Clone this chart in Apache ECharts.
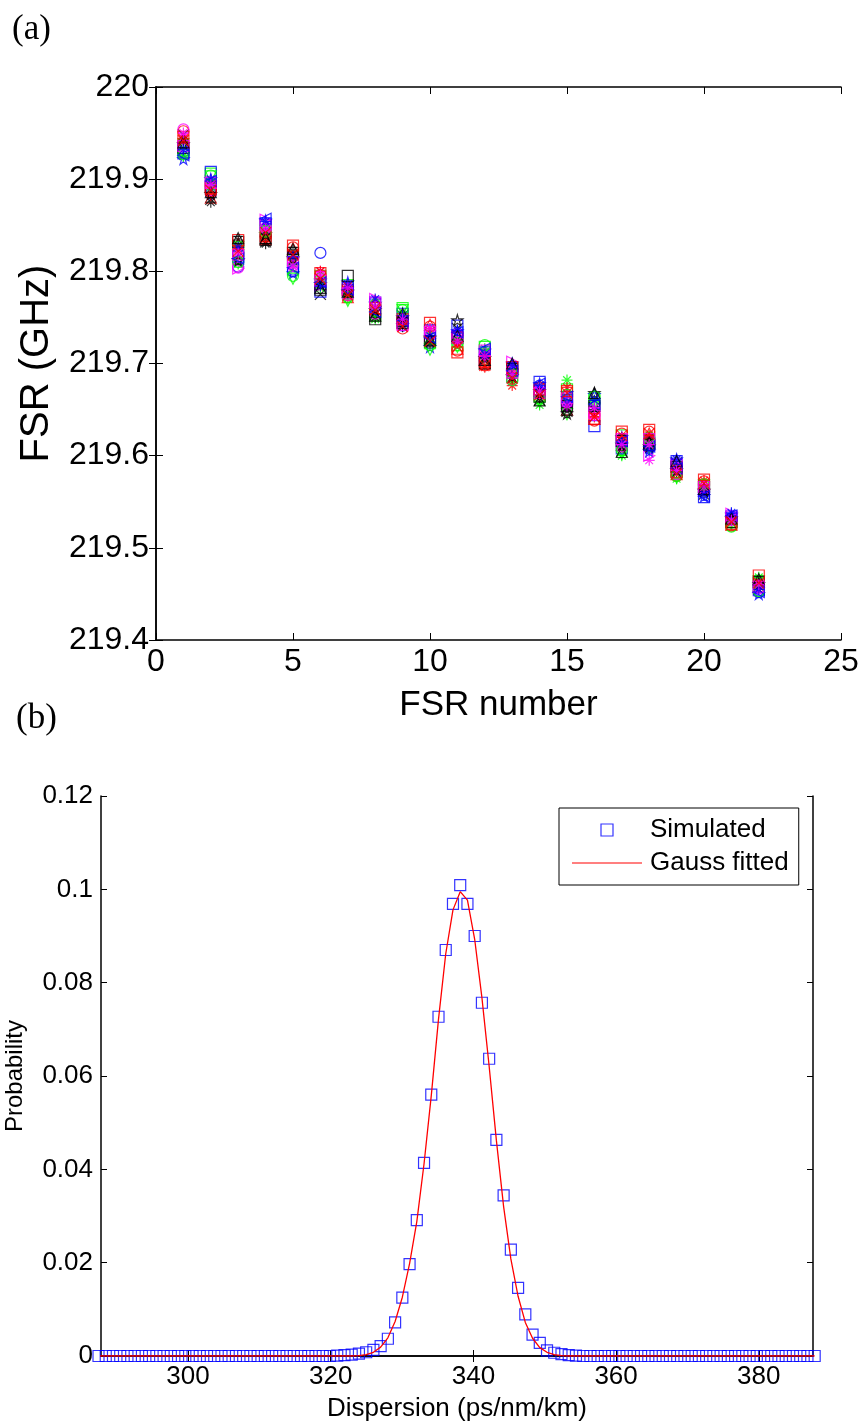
<!DOCTYPE html>
<html>
<head>
<meta charset="utf-8">
<script src="https://cdn.jsdelivr.net/npm/echarts@6/dist/echarts.min.js"></script>
<style>
  html, body { margin: 0; padding: 0; background: #fff; }
  #main { width: 866px; height: 1426px; }
</style>
</head>
<body>
<div id="main"></div>
<script>
// (a) FSR per FSR number, one array per simulation run
var fsrNumber = [1, 2, 3, 4, 5, 6, 7, 8, 9, 10, 11, 12, 13, 14, 15, 16, 17, 18, 19, 20, 21, 22];
var run01 = [219.930, 219.884, 219.805, 219.845, 219.800, 219.820, 219.776, 219.762, 219.741, 219.735, 219.733, 219.703, 219.694, 219.676, 219.655, 219.657, 219.618, 219.608, 219.590, 219.560, 219.532, 219.452];
var run02 = [219.932, 219.906, 219.822, 219.850, 219.812, 219.795, 219.785, 219.752, 219.760, 219.722, 219.720, 219.718, 219.686, 219.664, 219.672, 219.662, 219.622, 219.615, 219.582, 219.567, 219.528, 219.462];
var run03 = [219.945, 219.880, 219.830, 219.835, 219.825, 219.786, 219.772, 219.768, 219.750, 219.742, 219.716, 219.700, 219.698, 219.668, 219.650, 219.640, 219.612, 219.624, 219.580, 219.570, 219.525, 219.458];
var run04 = [219.940, 219.895, 219.815, 219.848, 219.805, 219.800, 219.780, 219.758, 219.745, 219.730, 219.728, 219.712, 219.690, 219.672, 219.660, 219.645, 219.610, 219.595, 219.588, 219.562, 219.534, 219.466];
var run05 = [219.948, 219.878, 219.828, 219.832, 219.818, 219.775, 219.778, 219.755, 219.752, 219.725, 219.738, 219.706, 219.685, 219.660, 219.648, 219.652, 219.605, 219.618, 219.592, 219.558, 219.530, 219.455];
var run06 = [219.922, 219.900, 219.812, 219.855, 219.798, 219.790, 219.788, 219.765, 219.742, 219.718, 219.735, 219.714, 219.700, 219.678, 219.668, 219.666, 219.620, 219.605, 219.596, 219.556, 219.536, 219.450];
var run07 = [219.925, 219.892, 219.808, 219.840, 219.808, 219.782, 219.770, 219.748, 219.756, 219.733, 219.724, 219.716, 219.680, 219.655, 219.682, 219.660, 219.600, 219.610, 219.575, 219.566, 219.527, 219.468];
var run08 = [219.952, 219.886, 219.820, 219.838, 219.826, 219.796, 219.774, 219.762, 219.738, 219.740, 219.714, 219.698, 219.692, 219.674, 219.664, 219.638, 219.624, 219.626, 219.578, 219.572, 219.524, 219.460];
var run09 = [219.935, 219.898, 219.803, 219.856, 219.815, 219.784, 219.783, 219.770, 219.744, 219.727, 219.730, 219.704, 219.702, 219.670, 219.656, 219.648, 219.616, 219.600, 219.590, 219.563, 219.537, 219.457];
var run10 = [219.942, 219.875, 219.834, 219.830, 219.822, 219.792, 219.776, 219.750, 219.740, 219.722, 219.726, 219.708, 219.684, 219.662, 219.652, 219.650, 219.614, 219.620, 219.583, 219.560, 219.531, 219.462];
var run11 = [219.928, 219.908, 219.816, 219.852, 219.802, 219.778, 219.782, 219.766, 219.754, 219.736, 219.741, 219.712, 219.695, 219.680, 219.660, 219.632, 219.608, 219.614, 219.594, 219.555, 219.534, 219.454];
var run12 = [219.938, 219.903, 219.826, 219.844, 219.792, 219.788, 219.768, 219.756, 219.758, 219.715, 219.718, 219.702, 219.688, 219.658, 219.645, 219.656, 219.602, 219.608, 219.576, 219.568, 219.526, 219.464];
var run13 = [219.944, 219.882, 219.824, 219.836, 219.812, 219.800, 219.784, 219.760, 219.746, 219.738, 219.722, 219.696, 219.676, 219.666, 219.674, 219.642, 219.620, 219.622, 219.586, 219.573, 219.529, 219.459];
var run14 = [219.954, 219.888, 219.804, 219.846, 219.806, 219.794, 219.774, 219.754, 219.748, 219.732, 219.732, 219.710, 219.682, 219.668, 219.658, 219.644, 219.610, 219.616, 219.580, 219.564, 219.530, 219.456];
var run15 = [219.934, 219.892, 219.832, 219.834, 219.820, 219.780, 219.795, 219.748, 219.744, 219.724, 219.728, 219.700, 219.694, 219.664, 219.654, 219.654, 219.616, 219.612, 219.588, 219.566, 219.528, 219.463];
var run16 = [219.938, 219.884, 219.812, 219.840, 219.814, 219.786, 219.778, 219.758, 219.750, 219.728, 219.747, 219.706, 219.686, 219.670, 219.646, 219.668, 219.612, 219.610, 219.584, 219.562, 219.532, 219.461];
var run17 = [219.927, 219.904, 219.810, 219.843, 219.795, 219.792, 219.772, 219.764, 219.758, 219.720, 219.722, 219.720, 219.682, 219.662, 219.666, 219.664, 219.606, 219.620, 219.578, 219.569, 219.523, 219.453];
var run18 = [219.946, 219.890, 219.834, 219.838, 219.828, 219.798, 219.780, 219.760, 219.748, 219.744, 219.712, 219.702, 219.696, 219.672, 219.670, 219.640, 219.626, 219.628, 219.582, 219.574, 219.526, 219.470];
var run19 = [219.936, 219.896, 219.818, 219.850, 219.810, 219.790, 219.776, 219.766, 219.742, 219.734, 219.728, 219.714, 219.690, 219.668, 219.662, 219.646, 219.618, 219.618, 219.590, 219.566, 219.534, 219.458];
var run20 = [219.932, 219.900, 219.826, 219.854, 219.816, 219.784, 219.786, 219.770, 219.752, 219.730, 219.736, 219.710, 219.698, 219.676, 219.658, 219.660, 219.614, 219.606, 219.596, 219.558, 219.538, 219.455];
var run21 = [219.940, 219.886, 219.836, 219.836, 219.824, 219.782, 219.778, 219.752, 219.754, 219.726, 219.730, 219.704, 219.700, 219.660, 219.650, 219.668, 219.604, 219.614, 219.594, 219.564, 219.532, 219.466];
var run22 = [219.926, 219.898, 219.814, 219.857, 219.804, 219.788, 219.780, 219.756, 219.746, 219.728, 219.734, 219.716, 219.692, 219.678, 219.664, 219.656, 219.616, 219.610, 219.586, 219.556, 219.535, 219.452];
var run23 = [219.950, 219.894, 219.820, 219.846, 219.806, 219.796, 219.782, 219.762, 219.748, 219.738, 219.724, 219.708, 219.688, 219.670, 219.654, 219.652, 219.612, 219.612, 219.584, 219.566, 219.530, 219.460];
var run24 = [219.942, 219.888, 219.822, 219.842, 219.818, 219.792, 219.774, 219.758, 219.740, 219.724, 219.718, 219.698, 219.684, 219.666, 219.668, 219.642, 219.622, 219.624, 219.580, 219.570, 219.528, 219.462];

// (b) dispersion histogram
var binStart = 287.45;   // first bin centre, ps/nm/km
var binStep = 1.014;
var probSimulated = [
  0, 0, 0, 0, 0, 0, 0, 0, 0, 0, 0, 0, 0, 0, 0, 0, 0, 0, 0, 0,
  0, 0, 0, 0, 0, 0, 0, 0, 0, 0, 0, 0, 0,
  0.0001, 0.0002, 0.0003, 0.0005, 0.0008, 0.0013, 0.0021, 0.0037, 0.0072, 0.0125,
  0.0197, 0.0291, 0.0414, 0.0560, 0.0727, 0.0870, 0.0969, 0.1009, 0.0969, 0.0900,
  0.0757, 0.0637, 0.0463, 0.0344, 0.0228, 0.0146, 0.0089, 0.0046, 0.0028, 0.0012,
  0.0007, 0.0004, 0.0002, 0.0001,
  0, 0, 0, 0, 0, 0, 0, 0, 0, 0, 0, 0, 0, 0, 0, 0, 0, 0, 0, 0,
  0, 0, 0, 0, 0, 0, 0, 0, 0, 0, 0, 0, 0
];
var probFitted = [
  0, 0, 0, 0, 0, 0, 0, 0, 0, 0, 0, 0, 0, 0, 0, 0, 0, 0, 0, 0,
  0, 0, 0, 0, 0, 0, 0, 0, 0, 0, 0, 0, 0, 0, 0, 0,
  0.0001, 0.0003, 0.0008, 0.0019, 0.0039, 0.0074, 0.0126, 0.0198, 0.0288, 0.0412,
  0.0558, 0.0722, 0.0862, 0.0956, 0.0995, 0.0977, 0.0893, 0.0768, 0.0621, 0.0462,
  0.0320, 0.0208, 0.0128, 0.0072, 0.0038, 0.0018, 0.0008, 0.0003, 0.0001,
  0, 0, 0, 0, 0, 0, 0, 0, 0, 0, 0, 0, 0, 0, 0, 0, 0, 0, 0, 0,
  0, 0, 0, 0, 0, 0, 0, 0, 0, 0, 0, 0, 0, 0, 0
];
var xTicksB = [300, 320, 340, 360, 380];

var FONT = "'Liberation Sans', Arial, sans-serif";
var SERIF = "'Liberation Serif', 'Times New Roman', serif";

// matlab-ish markers
var asterisk = 'path://M5 0L5 10M0 5L10 5M1.5 1.5L8.5 8.5M8.5 1.5L1.5 8.5';
var cross = 'path://M0 0L10 10M10 0L0 10';
var penta = 'path://M50 0L61 35L98 35L68 57L79 91L50 70L21 91L32 57L2 35L39 35Z';

var runs = [run01, run02, run03, run04, run05, run06, run07, run08,
            run09, run10, run11, run12, run13, run14, run15, run16,
            run17, run18, run19, run20, run21, run22, run23, run24];
var runStyle = [
  { sym: 'circle', col: '#0000ff' },
  { sym: 'rect', col: '#00ff00' },
  { sym: 'triangle', col: '#ff0000' },
  { sym: asterisk, col: '#ff00ff' },
  { sym: cross, col: '#000000' },
  { sym: penta, col: '#0000ff' },
  { sym: asterisk, col: '#00ff00' },
  { sym: 'circle', col: '#ff0000' },
  { sym: 'triangle', col: '#ff00ff', rot: -90 },
  { sym: asterisk, col: '#000000' },
  { sym: 'rect', col: '#0000ff' },
  { sym: 'triangle', col: '#00ff00', rot: 180 },
  { sym: asterisk, col: '#ff0000' },
  { sym: 'circle', col: '#ff00ff' },
  { sym: 'rect', col: '#000000' },
  { sym: penta, col: '#000000' },
  { sym: 'circle', col: '#00ff00' },
  { sym: 'rect', col: '#ff0000' },
  { sym: 'rect', col: '#ff00ff' },
  { sym: asterisk, col: '#0000ff' },
  { sym: 'triangle', col: '#000000' },
  { sym: 'triangle', col: '#0000ff', rot: 90 },
  { sym: asterisk, col: '#ff00ff' },
  { sym: cross, col: '#ff0000' }
];

var seriesA = runs.map(function (r, i) {
  var st = runStyle[i];
  return {
    type: 'scatter',
    xAxisIndex: 0,
    yAxisIndex: 0,
    symbol: st.sym,
    symbolSize: 11,
    symbolRotate: st.rot || 0,
    clip: false,
    itemStyle: { color: 'rgba(0,0,0,0)', borderColor: st.col, borderWidth: 1.2 },
    data: fsrNumber.map(function (n, j) { return [n, r[j]]; })
  };
});

var dispersion = probSimulated.map(function (v, i) { return +(binStart + i * binStep).toFixed(3); });

var chart = echarts.init(document.getElementById('main'));

var axisLine = { show: true, lineStyle: { color: '#000', width: 1.5 } };

var option = {
  animation: false,
  backgroundColor: '#fff',
  textStyle: { fontFamily: FONT },
  graphic: [
    { type: 'text', left: 12, top: 12, style: { text: '(a)', fontFamily: SERIF, fontSize: 35, fill: '#000' } },
    { type: 'text', left: 16, top: 701, style: { text: '(b)', fontFamily: SERIF, fontSize: 35, fill: '#000' } }
  ],
  grid: [
    { left: 156, top: 87, width: 685, height: 553, outerBoundsMode: 'none' },
    { left: 101, top: 796, width: 712, height: 560, outerBoundsMode: 'none' }
  ],
  legend: {
    data: [
      { name: 'Simulated', icon: 'path://M0 0H10V10H0Z',
        itemStyle: { color: 'rgba(0,0,0,0)', borderColor: '#0000ff', borderWidth: 1.2 } },
      { name: 'Gauss fitted', icon: 'path://M0 0H70V1H0Z',
        itemStyle: { color: '#ff0000', borderWidth: 0 } }
    ],
    orient: 'vertical',
    left: 559,
    top: 808,
    padding: [9, 10, 9, 13],
    itemGap: 7,
    itemWidth: 70,
    itemHeight: 12,
    symbolKeepAspect: true,
    borderColor: '#000',
    borderWidth: 1,
    backgroundColor: '#fff',
    textStyle: { fontFamily: FONT, fontSize: 26, color: '#000', padding: [0, 0, 0, 3] }
  },
  xAxis: [
    {
      gridIndex: 0, type: 'value', min: 0, max: 25, interval: 5,
      name: 'FSR number', nameLocation: 'middle', nameGap: 48, nameMoveOverlap: false,
      nameTextStyle: { fontFamily: FONT, fontSize: 35, color: '#000' },
      axisLine: axisLine,
      axisTick: { show: true, inside: true, length: 7, lineStyle: { color: '#000' } },
      axisLabel: { fontFamily: FONT, fontSize: 32, color: '#000', margin: 6 },
      splitLine: { show: false }
    },
    {
      gridIndex: 0, type: 'value', position: 'top', min: 0, max: 25, interval: 5,
      axisLine: axisLine,
      axisTick: { show: true, inside: true, length: 7, lineStyle: { color: '#000' } },
      axisLabel: { show: false }, splitLine: { show: false }
    },
    {
      gridIndex: 1, type: 'value', min: 287.8, max: 387.6,
      name: 'Dispersion (ps/nm/km)', nameLocation: 'middle', nameGap: 40, nameMoveOverlap: false,
      nameTextStyle: { fontFamily: FONT, fontSize: 26, color: '#000' },
      axisLine: axisLine,
      axisTick: { show: true, inside: true, length: 6, customValues: xTicksB, lineStyle: { color: '#000' } },
      axisLabel: { fontFamily: FONT, fontSize: 26, color: '#000', margin: 8, customValues: xTicksB },
      splitLine: { show: false }
    },
    {
      gridIndex: 1, type: 'value', position: 'top', min: 287.8, max: 387.6,
      axisLine: axisLine,
      axisTick: { show: true, inside: true, length: 6, customValues: xTicksB, lineStyle: { color: '#000' } },
      axisLabel: { show: false, customValues: xTicksB }, splitLine: { show: false }
    }
  ],
  yAxis: [
    {
      gridIndex: 0, type: 'value', min: 219.4, max: 220, interval: 0.1,
      name: 'FSR (GHz)', nameLocation: 'middle', nameGap: 99, nameRotate: 90, nameMoveOverlap: false,
      nameTextStyle: { fontFamily: FONT, fontSize: 40, color: '#000' },
      axisLine: axisLine,
      axisTick: { show: true, inside: true, length: 7, lineStyle: { color: '#000' } },
      axisLabel: { fontFamily: FONT, fontSize: 32, color: '#000', margin: 7 },
      splitLine: { show: false }
    },
    {
      gridIndex: 0, type: 'value', position: 'right', min: 219.4, max: 220, interval: 0.1,
      axisLine: axisLine,
      axisTick: { show: true, inside: true, length: 7, lineStyle: { color: '#000' } },
      axisLabel: { show: false }, splitLine: { show: false }
    },
    {
      gridIndex: 1, type: 'value', min: 0, max: 0.12, interval: 0.02,
      name: 'Probability', nameLocation: 'middle', nameGap: 74, nameRotate: 90, nameMoveOverlap: false,
      nameTextStyle: { fontFamily: FONT, fontSize: 24, color: '#000' },
      axisLine: axisLine,
      axisTick: { show: true, inside: true, length: 6, lineStyle: { color: '#000' } },
      axisLabel: { fontFamily: FONT, fontSize: 26, color: '#000', margin: 8 },
      splitLine: { show: false }
    },
    {
      gridIndex: 1, type: 'value', position: 'right', min: 0, max: 0.12, interval: 0.02,
      axisLine: axisLine,
      axisTick: { show: true, inside: true, length: 6, lineStyle: { color: '#000' } },
      axisLabel: { show: false }, splitLine: { show: false }
    }
  ],
  series: seriesA.concat([
    {
      name: 'Simulated',
      type: 'scatter',
      xAxisIndex: 2,
      yAxisIndex: 2,
      symbol: 'rect',
      symbolSize: 11,
      clip: false,
      itemStyle: { color: 'rgba(0,0,0,0)', borderColor: '#0000ff', borderWidth: 1.2 },
      data: dispersion.map(function (x, i) { return [x, probSimulated[i]]; })
    },
    {
      name: 'Gauss fitted',
      type: 'line',
      xAxisIndex: 2,
      yAxisIndex: 2,
      showSymbol: false,
      symbol: 'none',
      lineStyle: { color: '#ff0000', width: 1.3 },
      itemStyle: { color: '#ff0000' },
      data: dispersion.map(function (x, i) { return [x, probFitted[i]]; })
    }
  ])
};

chart.setOption(option);
</script>
</body>
</html>
